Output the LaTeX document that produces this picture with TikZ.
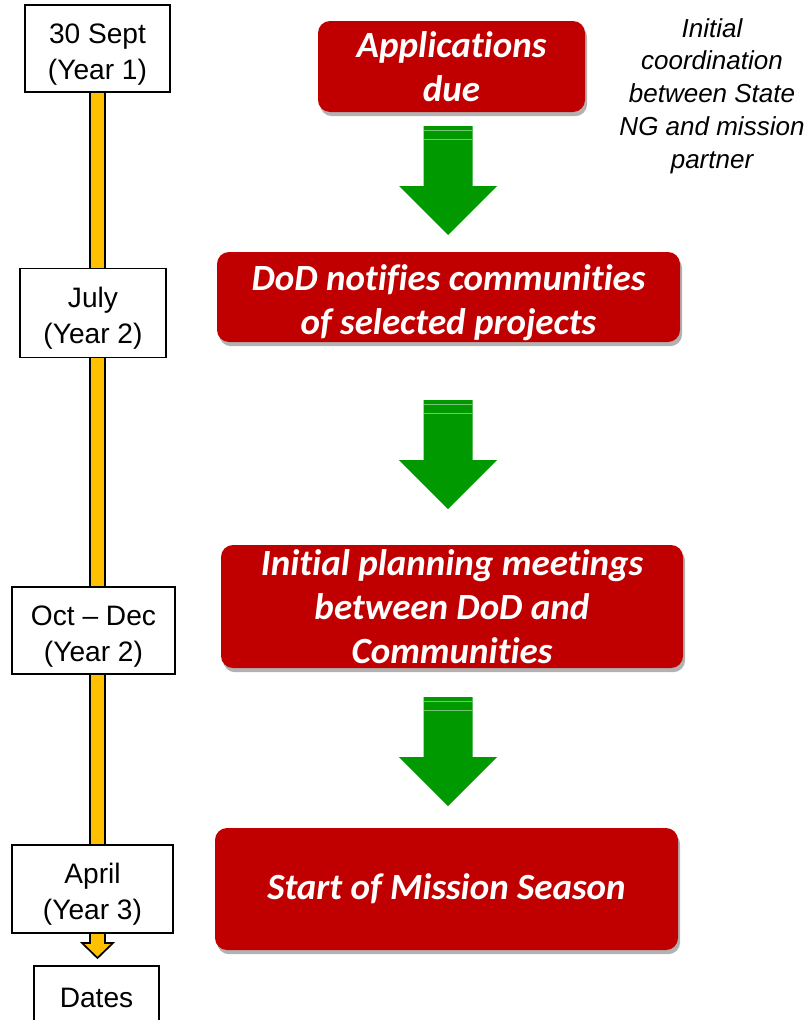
\documentclass[tikz,border=0pt]{standalone}
\usepackage{fontspec}
\setmainfont{Liberation Sans}
\newfontfamily\calibri[Ligatures=NoCommon]{Carlito}
\usetikzlibrary{shadows,backgrounds}

\definecolor{boxred}{HTML}{C00000}
\definecolor{arrowgreen}{HTML}{009900}
\definecolor{baryellow}{HTML}{FFC000}
\newlength\pxu
\setlength\pxu{0.025cm}
\newcommand\datestrut{\rule{0pt}{22pt}}

\begin{document}
\begin{tikzpicture}[
  x=0.025cm, y=-0.025cm,
  datebox/.style={draw, line width=1.2pt, fill=white, align=center, inner sep=0pt,
    font=\fontsize{20}{25.6}\selectfont},
  stage/.style={fill=boxred, rounded corners=12\pxu, align=center, inner sep=0pt, text=white,
    font=\calibri\bfseries\itshape\fontsize{26.3}{31.3}\selectfont,
    drop shadow={shadow xshift=1.5pt, shadow yshift=-3pt, opacity=.3, fill=black}},
  note/.style={align=center, font=\itshape\fontsize{18.5}{23.3}\selectfont},
  garrow/.pic={
    \fill[arrowgreen] (-24.5,0) -- (24.5,0) -- (24.5,60) -- (49,60) -- (0,109)
      -- (-49,60) -- (-24.5,60) -- cycle;
    \draw[arrowgreen!55!white, line width=0.5pt] (-24.5,4) -- (24.5,4) (-24.5,13) -- (24.5,13);
  }]
\useasboundingbox (0,0) rectangle (807,1020);

% date boxes on the timeline
\node[datebox, minimum width=145\pxu, minimum height=87\pxu] (sept) at (97.5,48.5) {\datestrut 30 Sept\\(Year 1)};
\node[datebox, minimum width=146\pxu, minimum height=89\pxu] (july) at (93,313) {\datestrut July\\(Year 2)};
\node[datebox, minimum width=163\pxu, minimum height=87\pxu] (octdec) at (93.5,630.5) {\datestrut Oct -- Dec\\(Year 2)};
\node[datebox, minimum width=161\pxu, minimum height=88\pxu] (april) at (92.5,889) {\datestrut April\\(Year 3)};
\node[datebox, minimum width=125\pxu, minimum height=70\pxu] (dates) at (96.5,1001) {\raisebox{4pt}{Dates}};

% timeline bar behind the date boxes
\coordinate (bartip) at (97.5,958);
\begin{scope}[on background layer]
\filldraw[fill=baryellow, draw=black, line width=1.2pt]
  ([xshift=-7.5\pxu]sept.south) -- ([xshift=-7.5\pxu]sept.south |- 0,943)
  -- ([xshift=-15.5\pxu]sept.south |- 0,943) -- (bartip)
  -- ([xshift=15.5\pxu]sept.south |- 0,943) -- ([xshift=7.5\pxu]sept.south |- 0,943)
  -- ([xshift=7.5\pxu]sept.south);
\end{scope}

% stages
\node[stage, minimum width=267\pxu, minimum height=91\pxu] (apps) at (451.5,66.5) {Applications\\due};
\node[stage, minimum width=463\pxu, minimum height=90\pxu] (notify) at (448.5,297) {\rule{0pt}{26pt}DoD notifies communities\\of selected projects};
\node[stage, minimum width=462\pxu, minimum height=123\pxu] (plan) at (452,606.5) {Initial planning meetings\\between DoD and\\Communities};
\node[stage, minimum width=463\pxu, minimum height=122\pxu] (start) at (446.5,889) {Start of Mission Season};

\node[note] (coord) at (712,96) {Initial\\coordination\\between State\\NG and mission\\partner};

% green arrows between stages
\pic at (448,126) {garrow};
\pic at (448,400) {garrow};
\pic at (448,697) {garrow};
\end{tikzpicture}
\end{document}
